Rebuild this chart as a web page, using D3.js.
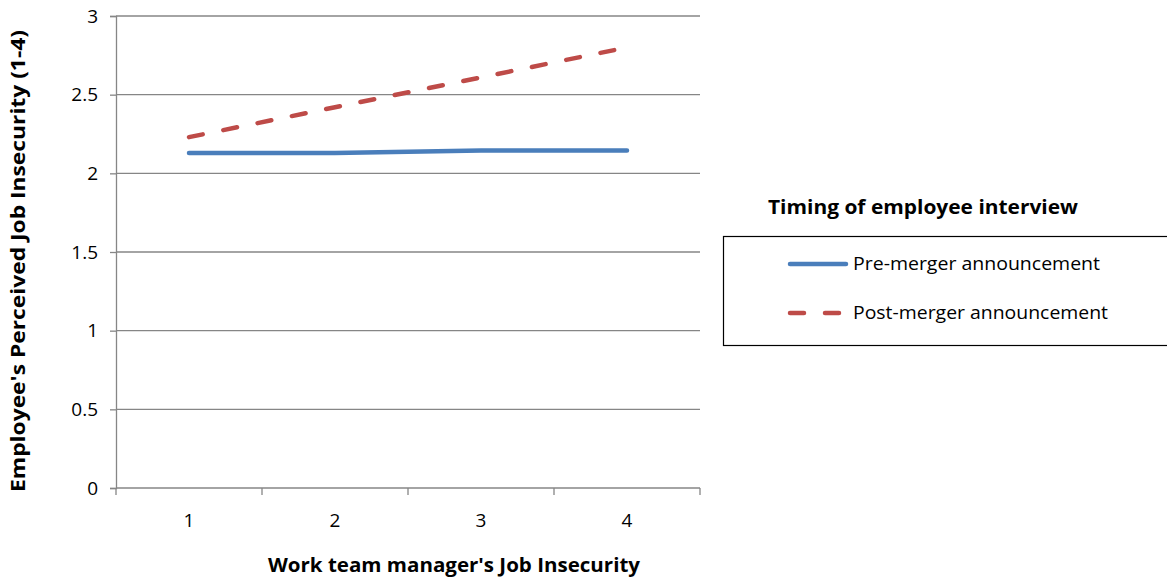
<!DOCTYPE html>
<html>
<head>
<meta charset="utf-8">
<script src="https://cdn.jsdelivr.net/npm/d3@7"></script>
<style>
  html, body { margin: 0; padding: 0; background: #fff; }
  svg text { font-family: "Open Sans", "Liberation Sans", sans-serif; fill: #000; }
</style>
</head>
<body>
<svg id="chart" width="1167" height="581"></svg>
<script>
// Categories on the x axis (work team manager's job insecurity)
const categories = ["1", "2", "3", "4"];
// Employee's perceived job insecurity, by interview timing
const preMerger = [2.13, 2.13, 2.145, 2.145];
const postMerger = [2.23, 2.42, 2.61, 2.80];
const seriesNames = ["Pre-merger announcement", "Post-merger announcement"];
const yTicks = [0, 0.5, 1, 1.5, 2, 2.5, 3];
const yTickLabels = ["0", "0.5", "1", "1.5", "2", "2.5", "3"];

const svg = d3.select("#chart");
const plotLeft = 116, plotRight = 700, plotTop = 16, plotBottom = 488;

const x = d3.scaleBand().domain(categories).range([plotLeft, plotRight]).padding(0);
const y = d3.scaleLinear().domain([0, 3]).range([plotBottom, plotTop]);

const gridColor = "#868686";

// Horizontal gridlines
svg.append("g").selectAll("line").data(yTicks.slice(1)).join("line")
  .attr("x1", plotLeft).attr("x2", plotRight)
  .attr("y1", d => y(d)).attr("y2", d => y(d))
  .attr("stroke", gridColor).attr("stroke-width", 1.3);

// Y axis
const yAxis = d3.axisLeft(y).tickValues(yTicks)
  .tickFormat((d, i) => yTickLabels[i]).tickSize(6).tickPadding(12);
const gy = svg.append("g").attr("transform", `translate(${plotLeft},0)`).call(yAxis);
gy.select(".domain").attr("stroke", gridColor).attr("stroke-width", 1.3);
gy.selectAll(".tick line").attr("stroke", gridColor).attr("stroke-width", 1.3);
gy.selectAll(".tick text").style("font-size", "19px").attr("fill", "#000")
  .style("font-family", "'Open Sans', sans-serif");

// X axis with ticks between categories
const xAxis = d3.axisBottom(x).tickSize(0).tickPadding(26);
const gx = svg.append("g").attr("transform", `translate(0,${plotBottom})`).call(xAxis);
gx.select(".domain").attr("stroke", gridColor).attr("stroke-width", 1.3)
  .attr("d", `M${plotLeft},0H${plotRight}`);
gx.selectAll(".tick text").style("font-size", "19px").attr("fill", "#000")
  .style("font-family", "'Open Sans', sans-serif");
const boundaries = categories.map(c => x(c)).concat([plotRight]);
gx.selectAll(".sep").data(boundaries).join("line").attr("class", "sep")
  .attr("x1", d => d).attr("x2", d => d).attr("y1", 0).attr("y2", 7)
  .attr("stroke", gridColor).attr("stroke-width", 1.3);

// Series lines
const line = d3.line()
  .x((d, i) => x(categories[i]) + x.bandwidth() / 2)
  .y(d => y(d));

svg.append("path").datum(preMerger)
  .attr("d", line).attr("fill", "none")
  .attr("stroke", "#4A7EBB").attr("stroke-width", 4.5)
  .attr("stroke-linecap", "round").attr("stroke-linejoin", "round");

svg.append("path").datum(postMerger)
  .attr("d", line).attr("fill", "none")
  .attr("stroke", "#BE4B48").attr("stroke-width", 4.5)
  .attr("stroke-dasharray", "14,21")
  .attr("stroke-linecap", "round").attr("stroke-linejoin", "round");

// Axis titles
svg.append("text")
  .attr("x", 454).attr("y", 572).attr("text-anchor", "middle")
  .attr("textLength", 372).attr("lengthAdjust", "spacingAndGlyphs")
  .style("font-size", "20px").style("font-weight", "bold")
  .text("Work team manager's Job Insecurity");

svg.append("text")
  .attr("transform", "translate(25,261) rotate(-90)")
  .attr("text-anchor", "middle")
  .attr("textLength", 462).attr("lengthAdjust", "spacingAndGlyphs")
  .style("font-size", "20px").style("font-weight", "bold")
  .text("Employee's Perceived Job Insecurity (1-4)");

// Legend
svg.append("text")
  .attr("x", 923).attr("y", 214).attr("text-anchor", "middle")
  .attr("textLength", 310).attr("lengthAdjust", "spacingAndGlyphs")
  .style("font-size", "20px").style("font-weight", "bold")
  .text("Timing of employee interview");

svg.append("rect")
  .attr("x", 723.5).attr("y", 236.5).attr("width", 460).attr("height", 109)
  .attr("fill", "#fff").attr("stroke", "#000").attr("stroke-width", 1.2);

const legendRows = [
  { name: seriesNames[0], color: "#4A7EBB", dash: null, y: 264, len: 247 },
  { name: seriesNames[1], color: "#BE4B48", dash: "14,21", y: 313, len: 255 }
];
legendRows.forEach(r => {
  svg.append("line")
    .attr("x1", 790).attr("x2", 846).attr("y1", r.y).attr("y2", r.y)
    .attr("stroke", r.color).attr("stroke-width", 4.5)
    .attr("stroke-linecap", "round")
    .attr("stroke-dasharray", r.dash);
  svg.append("text")
    .attr("x", 853).attr("y", r.y + 6)
    .attr("textLength", r.len).attr("lengthAdjust", "spacingAndGlyphs")
    .style("font-size", "19px")
    .text(r.name);
});
</script>
</body>
</html>
